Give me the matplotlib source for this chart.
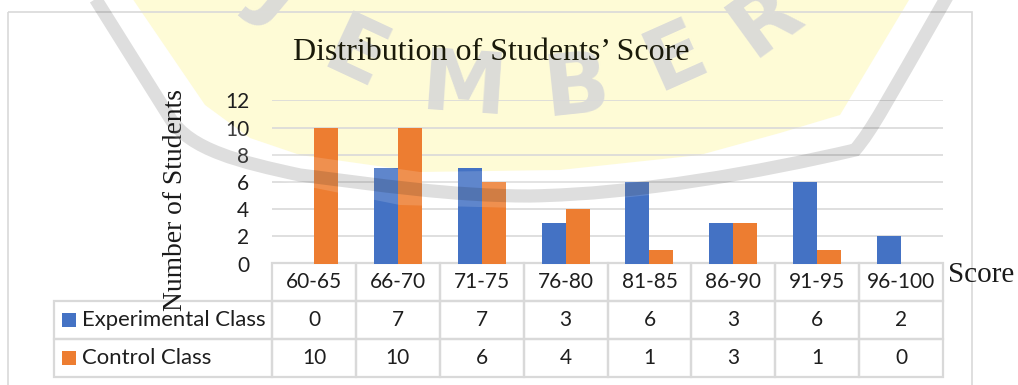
#!/usr/bin/env python
"""Distribution of students' score, bars plus data table, over a faint watermark."""
import matplotlib
matplotlib.use("Agg")
import matplotlib.pyplot as plt
from matplotlib.patches import PathPatch, Polygon, Rectangle
from matplotlib.path import Path

categories = ["60-65", "66-70", "71-75", "76-80", "81-85", "86-90", "91-95", "96-100"]
experimental = [0, 7, 7, 3, 6, 3, 6, 2]
control = [10, 10, 6, 4, 1, 3, 1, 0]
series_names = ["Experimental Class", "Control Class"]
y_ticks = [0, 2, 4, 6, 8, 10, 12]

W, H = 1018, 385
BLUE = "#4472C4"
ORANGE = "#ED7D31"
GRID = "#D9D9D9"
TEXT = "#1E1E1E"
SERIF = "Liberation Serif"
SANS = "Lato"


def pixel_axes(zorder):
    # whole-figure axes measured in picture pixels, for the watermark and frame
    a = fig.add_axes([0, 0, 1, 1], zorder=zorder)
    a.set_xlim(0, W)
    a.set_ylim(H, 0)
    a.axis("off")
    return a


fig = plt.figure(figsize=(W / 100, H / 100), dpi=100, facecolor="white")

# back layer: yellow seal, its letters and the chart frame
back = pixel_axes(0)
seal = [(130, -5), (205, 105), (250, 138), (300, 155), (420, 172), (560, 170),
        (700, 155), (780, 133), (840, 115), (912, -5)]
back.add_patch(Polygon(seal, closed=True, fc="#FEFBD6", ec="none"))
back.add_patch(Rectangle((8.5, 11.5), 963.5, 390, fc="none", ec=GRID, lw=1.2))
letters = [("J", 280, -6, -40), ("E", 355, 57, -25), ("M", 464, 89, -4), ("B", 576, 89, 6),
           ("E", 675, 58, 24), ("R", 765, 20, 36)]
for ch, lx, ly, rot in letters:
    back.text(lx, ly, ch, family="DejaVu Sans", weight="bold", fontsize=62, color="#DCDCD8",
              rotation=rot, ha="center", va="center", rotation_mode="anchor")

# chart
ax = fig.add_axes([272 / W, 1 - 263.5 / H, 671 / W, 163 / H], zorder=2)
ax.patch.set_alpha(0)
x = list(range(len(categories)))
bar_w = 24 / (671 / 8)
ax.bar([i - bar_w / 2 for i in x], experimental, bar_w, color=BLUE, label=series_names[0], zorder=3)
ax.bar([i + bar_w / 2 for i in x], control, bar_w, color=ORANGE, label=series_names[1], zorder=3)
ax.set_xlim(-0.5, len(categories) - 0.5)
ax.set_ylim(0, 12)
ax.set_yticks(y_ticks)
ax.set_xticks([])
ax.tick_params(axis="y", length=0, pad=16.5, labelsize=15, labelcolor=TEXT)
for lab in ax.get_yticklabels():
    lab.set_fontfamily(SANS)
ax.grid(axis="y", color=GRID, lw=1.2, zorder=0)
ax.set_axisbelow(True)
for s in ax.spines.values():
    s.set_visible(False)

# data table below the plot; its bbox covers the value columns only
table_h = (377 - 263.5) / 163
table = ax.table(
    cellText=[[str(v) for v in experimental], [str(v) for v in control]],
    colLabels=categories,
    colWidths=[1 / 8] * 8,
    cellLoc="center",
    bbox=[0, -table_h, 1, table_h],
)
# row labels added by hand, ax.table(rowLabels=...) would auto-size their column
row_h = table[(1, 0)].get_height()
for i, name in enumerate(series_names):
    table.add_cell(i + 1, -1, width=218 / 671, height=row_h, text=name, loc="left")
table.auto_set_font_size(False)
table.set_fontsize(15)
for (row, col), cell in table.get_celld().items():
    cell.set_edgecolor(GRID)
    cell.set_linewidth(1.6)
    cell.set_facecolor("none")
    cell.get_text().set_fontfamily(SANS)
    cell.get_text().set_color(TEXT)
    if col == -1:
        cell.PAD = 28 / 218
        cell.get_text().set_fontsize(15.9)

# serif titles, placed as in the source document
fig.text(491 / W, 1 - 53 / H, "Distribution of Students\u2019 Score", family=SERIF, fontsize=23,
         color="#1A1A0A", ha="center", va="center")
fig.text(176 / W, 1 - 200 / H, "Number of Students", family=SERIF, fontsize=19.8, color="#1A1A1A",
         rotation=90, ha="center", va="center")
fig.text(981 / W, 1 - 275 / H, "Score", family=SERIF, fontsize=21, color="#1A1A1A",
         ha="center", va="center")

# top layer: legend keys, translucent wash and ring of the watermark
top = pixel_axes(6)
top.patch.set_alpha(0)
top.add_patch(Rectangle((62, 313), 14, 14, fc=BLUE, ec="none"))
top.add_patch(Rectangle((62, 351), 14, 14, fc=ORANGE, ec="none"))
wash = [(205, 105), (250, 138), (300, 155), (420, 172), (560, 170), (700, 155), (780, 133),
        (840, 115), (860, 140), (700, 190), (520, 208), (400, 205), (250, 175), (170, 135)]
top.add_patch(Polygon(wash, closed=True, fc="white", ec="none", alpha=0.15))
ring = Path(
    [(93, -5), (170, 118), (190, 150), (240, 162), (300, 175), (380, 185), (450, 196), (530, 196),
     (640, 194), (760, 172), (855, 150), (872, 130), (885, 105), (948, -5)],
    [Path.MOVETO, Path.LINETO, Path.CURVE4, Path.CURVE4, Path.CURVE4, Path.CURVE4, Path.CURVE4,
     Path.CURVE4, Path.CURVE4, Path.CURVE4, Path.CURVE4, Path.CURVE4, Path.CURVE4, Path.LINETO],
)
top.add_patch(PathPatch(ring, fc="none", ec="black", lw=9.5, alpha=0.13))

fig.savefig("out.png", dpi=100)
